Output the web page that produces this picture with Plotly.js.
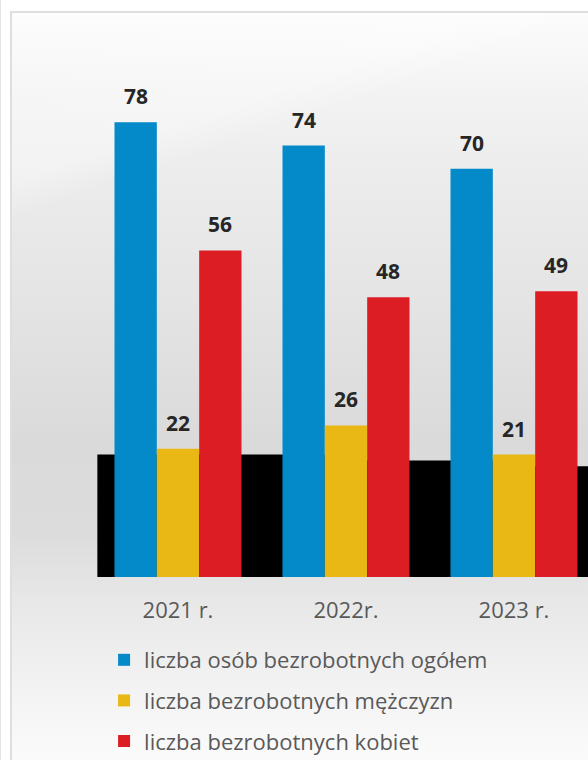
<!DOCTYPE html>
<html>
<head>
<meta charset="utf-8">
<script src="https://cdn.plot.ly/plotly-3.0.1.min.js"></script>
<style>
  html, body { margin: 0; padding: 0; width: 588px; height: 760px; overflow: hidden; background: #ffffff; }
  #edge { position: absolute; left: 0; top: 0; width: 1px; height: 760px; background: #e4e4e4; }
  #frame {
    position: absolute; left: 10px; top: 11px; width: 640px; height: 800px;
    border: 2px solid #dedede; box-sizing: border-box;
    background:
      linear-gradient(341deg, rgba(255,255,255,0) 0px, rgba(255,255,255,0) 765px, rgba(255,255,255,0.32) 800px, rgba(255,255,255,0.2) 950px),
      linear-gradient(to bottom, #fcfcfc 0px, #f3f3f3 80px, #ececec 160px, #e4e4e4 290px, #dadada 430px, #dcdcdc 520px, #e8e8e8 590px, #f2f2f2 670px, #fbfbfb 749px);
  }
  #chart { position: absolute; left: 0; top: 0; width: 620px; height: 760px; }
</style>
</head>
<body>
<div id="edge"></div>
<div id="frame"></div>
<div id="chart"></div>
<script>
const categories = ['2021 r.', '2022r.', '2023 r.'];
const seriesNames = ['liczba osób bezrobotnych ogółem', 'liczba bezrobotnych mężczyzn', 'liczba bezrobotnych kobiet'];
const totalValues = [78, 74, 70];
const menValues = [22, 26, 21];
const womenValues = [56, 48, 49];
const bandX = [-0.48, 1, 2, 2.6];
const bandY = [21, 20, 19, 19];

const seriesValues = [totalValues, menValues, womenValues];
const seriesColors = ['#058ac9', '#eab814', '#dc1d24'];
const positions = categories.map((c, i) => i);
const bargap = 0.244;
const barW = (1 - bargap) / 3;

const traces = [{
  type: 'scatter', x: bandX, y: bandY, xaxis: 'x', yaxis: 'y',
  mode: 'lines', line: {shape: 'hv', width: 0, color: '#000000'},
  fill: 'tozeroy', fillcolor: '#000000', hoverinfo: 'skip', showlegend: false
}];
seriesValues.forEach((vals, k) => {
  traces.push({
    type: 'bar', name: seriesNames[k], x: positions, y: vals,
    xaxis: 'x2', yaxis: 'y', legendgroup: 'g' + k,
    marker: {color: seriesColors[k], line: {width: 0}}
  });
});

const annotations = [];
seriesValues.forEach((vals, k) => {
  vals.forEach((v, i) => {
    annotations.push({
      xref: 'x', yref: 'y', x: positions[i] + (k - 1) * barW, y: v,
      text: String(v), showarrow: false, yanchor: 'middle', yshift: 26,
      font: {family: 'Open Sans, sans-serif', size: 21, color: '#262626', weight: 700}
    });
  });
});

const layout = {
  width: 620, height: 760,
  margin: {l: 94, r: 22, t: 40, b: 183, autoexpand: false},
  paper_bgcolor: 'rgba(0,0,0,0)', plot_bgcolor: 'rgba(0,0,0,0)',
  barmode: 'group', bargap: bargap, bargroupgap: 0,
  showlegend: true,
  legend: {
    x: 0.02, xanchor: 'left', y: -0.1155, yanchor: 'top',
    orientation: 'v', traceorder: 'grouped', tracegroupgap: 9,
    font: {family: 'Open Sans, sans-serif', size: 22, color: '#595959'},
    bgcolor: 'rgba(0,0,0,0)', borderwidth: 0
  },
  xaxis: {
    range: [-0.5, 2.5], tickvals: positions, ticktext: categories,
    showgrid: false, zeroline: false, showline: false, ticks: '',
    ticklabelstandoff: 18,
    tickfont: {family: 'Open Sans, sans-serif', size: 22, color: '#595959'},
    fixedrange: true
  },
  xaxis2: {
    range: [-0.5, 2.5], overlaying: 'x', visible: false, fixedrange: true
  },
  yaxis: {
    range: [0, 92.1], visible: false, showgrid: false, zeroline: false, fixedrange: true
  },
  annotations: annotations
};

Plotly.newPlot('chart', traces, layout, {displayModeBar: false, staticPlot: true});
</script>
</body>
</html>
